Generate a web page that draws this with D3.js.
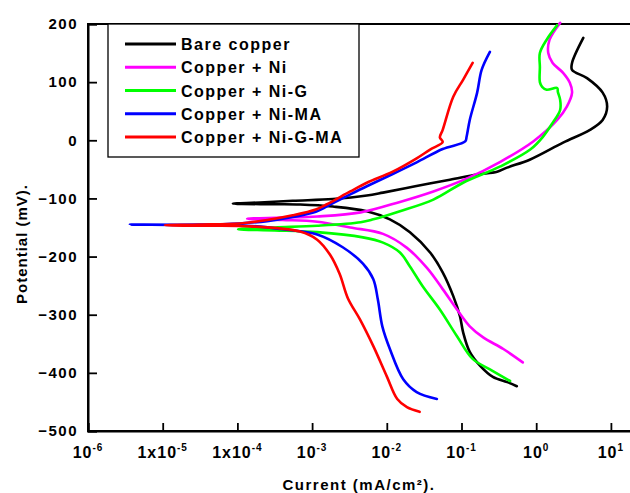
<!DOCTYPE html>
<html>
<head>
<meta charset="utf-8">
<script src="https://cdn.jsdelivr.net/npm/d3@7/dist/d3.min.js"></script>
<style>
  html, body { margin: 0; padding: 0; background: #fff; }
  svg { display: block; }
  text { font-family: "Liberation Sans", Arial, sans-serif; font-weight: bold; fill: #000; }
</style>
</head>
<body>
<svg id="chart" width="630" height="493"></svg>
<script>
// ---------- data (current in mA/cm², potential in mV), in sweep order ----------
const seriesNames = ["Bare copper", "Copper + Ni", "Copper + Ni-G", "Copper + Ni-MA", "Copper + Ni-G-MA"];
const seriesColors = ["#000000", "#ff00ff", "#00ff00", "#0000ff", "#ff0000"];

const bareCopper = [
  [0.55,-423],[0.41,-416],[0.263,-407],[0.178,-388],[0.129,-364],[0.105,-330],[0.0955,-303],
  [0.0776,-268],[0.056,-227],[0.038,-193],[0.0204,-158],[0.011,-136],[0.0054,-122],[0.0019,-114],
  [0.00069,-110.5],[0.000316,-110],[0.000087,-109],
  [0.0002,-107],[0.00055,-104],[0.0019,-101],[0.0054,-95],[0.0089,-90],[0.024,-79],[0.07,-68],
  [0.16,-59],[0.3,-54],[0.407,-47],[0.832,-33],[2.29,-4],[5.25,18],[7.76,35],[8.91,58],[7.76,82],
  [4.79,107],[3.02,121],[3.02,133],[4.27,176]
];
const copperNi = [
  [0.661,-382],[0.363,-359],[0.195,-339],[0.129,-320],[0.087,-291],[0.056,-256],[0.0347,-220],
  [0.0186,-185],[0.0089,-161],[0.00324,-150],[0.00117,-140],[0.000398,-137],[0.000135,-135],
  [0.000398,-133],[0.00117,-131],[0.00447,-124],[0.015,-106],[0.042,-88],[0.117,-66],[0.331,-37],
  [0.912,-2],[1.91,35],[2.57,58],[3.02,82],[2.82,99],[2.29,116],[1.66,133],[1.45,150],[1.51,173],[2.09,202]
];
const copperNiG = [
  [0.447,-414],[0.24,-394],[0.141,-376],[0.087,-337],[0.0513,-291],[0.0302,-251],[0.0204,-217],
  [0.015,-193],[0.0089,-176],[0.00479,-167],[0.00117,-158],[0.000316,-155],[0.000102,-153],
  [0.000316,-150],[0.00117,-147],[0.00447,-141],[0.0066,-136],[0.015,-122],[0.042,-102],[0.105,-73],
  [0.331,-45],[0.832,-16],[1.23,6],[1.66,30],[2.09,52],[2.09,70],[1.95,83],[1.91,90],[1.38,87],
  [1.2,92],[1.12,100],[1.12,126],[1.12,150],[1.38,173],[1.91,198]
];
const copperNiMA = [
  [0.0468,-445],[0.0251,-433],[0.0166,-411],[0.011,-359],[0.00871,-320],[0.00759,-274],[0.0066,-239],
  [0.00479,-212],[0.00257,-184],[0.00117,-162],[0.000407,-153],[0.000107,-146],[0.0000316,-146],
  [0.00000363,-145],
  [0.0000316,-145],[0.000107,-143],[0.000251,-139],[0.00055,-132],[0.00112,-123],[0.0019,-108],
  [0.00324,-93],[0.0054,-79],[0.012,-58],[0.0251,-38],[0.056,-15],[0.112,-2],[0.117,6],[0.129,35],
  [0.162,82],[0.186,121],[0.24,152]
];
const copperNiGMA = [
  [0.0275,-467],[0.0186,-459],[0.0138,-445],[0.01,-406],[0.0066,-354],[0.00437,-308],[0.00302,-272],
  [0.00234,-230],[0.00174,-197],[0.00117,-171],[0.00069,-157],[0.000148,-148],[0.0000316,-147],
  [0.0000107,-146],
  [0.0000316,-145],[0.000107,-143],[0.000251,-137],[0.00055,-129],[0.00112,-119],[0.00158,-110],
  [0.00324,-88],[0.0054,-73],[0.012,-54],[0.0251,-31],[0.038,-16],[0.056,-3],[0.0513,5],[0.056,18],
  [0.0776,75],[0.105,104],[0.141,133]
];

const xTickValues = [1e-6, 1e-5, 1e-4, 1e-3, 1e-2, 1e-1, 1e0, 1e1];
const xTickBases  = ["10", "1x10", "1x10", "10", "10", "10", "10", "10"];
const xTickExps   = ["-6", "-5", "-4", "-3", "-2", "-1", "0", "1"];
const yTickValues = [-500, -400, -300, -200, -100, 0, 100, 200];
const xTitle = "Current (mA/cm²).";
const yTitle = "Potential (mV).";

// ---------- layout ----------
const svg = d3.select("#chart");
const plotLeft = 88, plotTop = 24, plotBottom = 431;
const decade = 74.7;
const x = d3.scaleLog().domain([1e-6, 1e2]).range([plotLeft, plotLeft + 8 * decade]);
const y = d3.scaleLinear().domain([-500, 200]).range([plotBottom, plotTop]);

// frame (right side lies outside the 630px view)
svg.append("rect")
  .attr("x", plotLeft).attr("y", plotTop)
  .attr("width", x(1e2) - plotLeft).attr("height", plotBottom - plotTop)
  .attr("fill", "none").attr("stroke", "#000").attr("stroke-width", 2);

// curves
const line = d3.line()
  .x(d => x(d[0])).y(d => y(d[1]))
  .curve(d3.curveCatmullRom.alpha(0.5));
const allSeries = [bareCopper, copperNi, copperNiG, copperNiMA, copperNiGMA];
svg.append("g").selectAll("path").data(allSeries).join("path")
  .attr("d", line)
  .attr("fill", "none")
  .attr("stroke", (d, i) => seriesColors[i])
  .attr("stroke-width", 2.6)
  .attr("stroke-linejoin", "round")
  .attr("stroke-linecap", "round");

// x axis
const xAxis = svg.append("g").attr("transform", `translate(0,${plotBottom})`)
  .call(d3.axisBottom(x).tickValues(xTickValues).tickSize(-8).tickFormat(""));
xAxis.select(".domain").attr("stroke-width", 2);
xAxis.selectAll(".tick line").attr("stroke-width", 1.8);
const xl = svg.append("g").selectAll("text").data(xTickValues).join("text")
  .attr("x", d => x(d)).attr("y", 458)
  .attr("text-anchor", "middle")
  .style("font-size", "16px").style("letter-spacing", "1px");
xl.append("tspan").text((d, i) => xTickBases[i]);
xl.append("tspan").attr("dy", -7).style("font-size", "10px").text((d, i) => xTickExps[i]);

// y axis
const yAxis = svg.append("g").attr("transform", `translate(${plotLeft},0)`)
  .call(d3.axisLeft(y).tickValues(yTickValues).tickSize(-9).tickPadding(10));
yAxis.select(".domain").attr("stroke-width", 2);
yAxis.selectAll(".tick line").attr("stroke-width", 1.8);
yAxis.selectAll(".tick text")
  .style("font-size", "15px").style("letter-spacing", "1.5px")
  .style("font-family", "'Liberation Sans', Arial, sans-serif").style("font-weight", "bold")
  .attr("fill", "#000");

// axis titles
svg.append("text").attr("x", 359).attr("y", 490).attr("text-anchor", "middle")
  .style("font-size", "15px").style("letter-spacing", "1.5px").text(xTitle);
svg.append("text").attr("transform", "translate(27,244) rotate(-90)").attr("text-anchor", "middle")
  .style("font-size", "15px").style("letter-spacing", "1px").text(yTitle);

// legend
const lg = svg.append("g");
lg.append("rect").attr("x", 108).attr("y", 24).attr("width", 251).attr("height", 133)
  .attr("fill", "#fff").attr("stroke", "#000").attr("stroke-width", 1.3);
const legendY = d3.scalePoint().domain(seriesNames).range([44, 137]);
const items = lg.selectAll("g.item").data(seriesNames).join("g").attr("class", "item");
items.append("line")
  .attr("x1", 125).attr("x2", 176)
  .attr("y1", d => legendY(d)).attr("y2", d => legendY(d))
  .attr("stroke", (d, i) => seriesColors[i]).attr("stroke-width", 3);
items.append("text")
  .attr("x", 181).attr("y", d => legendY(d) + 6)
  .style("font-size", "16px").style("letter-spacing", "1.5px")
  .text(d => d);
</script>
</body>
</html>
